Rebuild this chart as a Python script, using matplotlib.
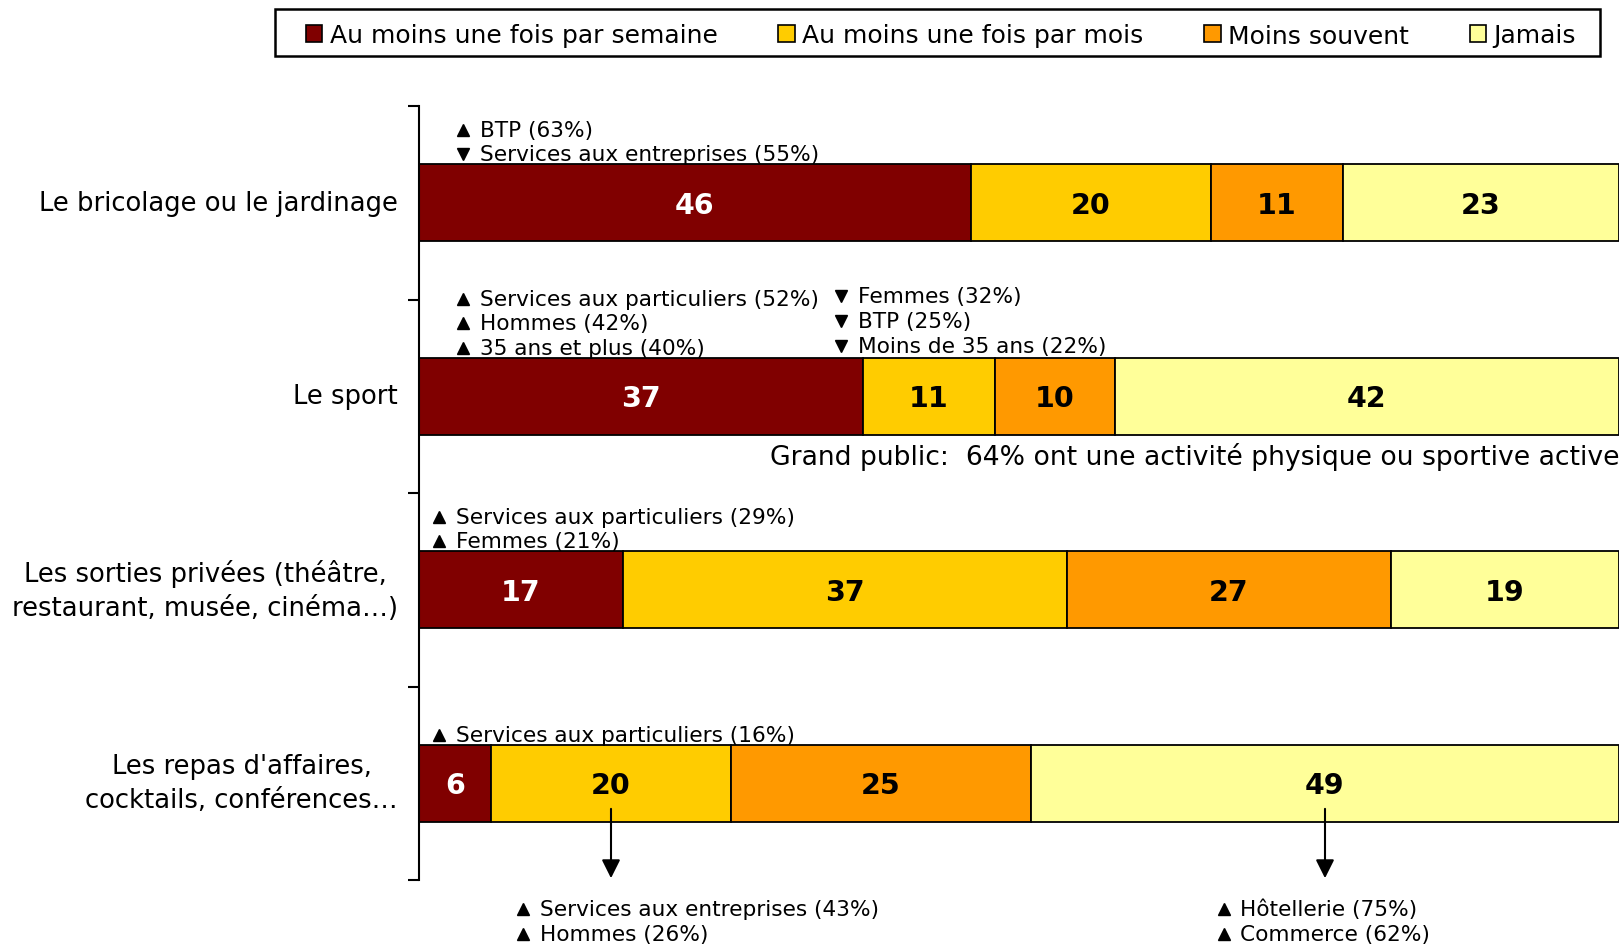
import numpy as np
import matplotlib.pyplot as plt
from matplotlib.patches import Patch, Rectangle

plt.rcParams['font.family'] = 'DejaVu Sans'

categories = [
    "Le bricolage ou le jardinage",
    "Le sport",
    "Les sorties privées (théâtre,\nrestaurant, musée, cinéma…)",
    "Les repas d'affaires,\ncocktails, conférences…",
]
series = ["Au moins une fois par semaine", "Au moins une fois par mois",
          "Moins souvent", "Jamais"]
semaine = [46, 37, 17, 6]
mois = [20, 11, 37, 20]
moins_souvent = [11, 10, 27, 25]
jamais = [23, 42, 19, 49]
colors = ["#800000", "#FFCC00", "#FF9900", "#FFFF99"]
text_colors = ["white", "black", "black", "black"]

# sub-population notes above each bar: (bar, x start, [(direction, text), ...])
notes = [
    (0, 3.7, [("^", "BTP (63%)"), ("v", "Services aux entreprises (55%)")]),
    (1, 3.7, [("^", "Services aux particuliers (52%)"), ("^", "Hommes (42%)"),
              ("^", "35 ans et plus (40%)")]),
    (1, 35.2, [("v", "Femmes (32%)"), ("v", "BTP (25%)"),
               ("v", "Moins de 35 ans (22%)")]),
    (2, 1.7, [("^", "Services aux particuliers (29%)"), ("^", "Femmes (21%)")]),
    (3, 1.7, [("^", "Services aux particuliers (16%)")]),
]
# notes hanging below the last bar, pointed at a segment:
# (series index, shift from arrow, lines)
below_notes = [
    (1, -7.3, [("^", "Services aux entreprises (43%)"), ("^", "Hommes (26%)")]),
    (3, -8.4, [("^", "Hôtellerie (75%)"), ("^", "Commerce (62%)")]),
]
grand_public = "Grand public:  64% ont une activité physique ou sportive active"

values = np.array([semaine, mois, moins_souvent, jamais])
ypos = np.arange(len(categories))
bar_h = 0.4
step = 0.127

fig = plt.figure(figsize=(16.23, 9.45), dpi=100)
ax = fig.add_axes([419 / 1623, 1 - 881 / 945, 1200 / 1623, 774 / 945])

left = np.zeros(len(categories))
for i, (name, col) in enumerate(zip(series, colors)):
    ax.barh(ypos, values[i], left=left, height=bar_h, color=col,
            edgecolor="black", linewidth=1.3, label=name)
    for j in range(len(categories)):
        ax.text(left[j] + values[i][j] / 2, ypos[j] + 0.01, str(values[i][j]),
                ha="center", va="center", fontsize=20.5, fontweight="bold",
                color=text_colors[i])
    left += values[i]

ax.set_xlim(0, 100)
ax.set_ylim(len(categories) - 0.5, -0.5)
ax.set_xticks([])
ax.set_yticks(np.arange(len(categories) + 1) - 0.5)
ax.set_yticklabels([])
ax.tick_params(axis="y", direction="out", length=8, width=1.5)
for s in ["top", "right", "bottom"]:
    ax.spines[s].set_visible(False)
ax.spines["left"].set_linewidth(1.5)

for j, cat in enumerate(categories):
    ax.text(-0.0175, 1 - (j + 0.5) / len(categories), cat,
            transform=ax.transAxes, ha="right", va="center",
            multialignment="center", fontsize=18.6, linespacing=1.38)


def note_lines(x, y0, lines):
    for k, (mk, txt) in enumerate(lines):
        y = y0 + k * step
        ax.plot(x, y, marker=mk, color="black", markersize=8.5,
                linestyle="none", clip_on=False)
        ax.text(x + 1.35, y, txt, ha="left", va="center", fontsize=15.6,
                clip_on=False)


for bar, x, lines in notes:
    top = ypos[bar] - bar_h / 2
    y0 = top - 0.05 - (len(lines) - 1) * step
    if x > 20:
        y0 -= 0.012
    note_lines(x, y0, lines)

ax.text(100, ypos[1] + bar_h / 2 + 0.11, grand_public, ha="right",
        va="center", fontsize=19.2)

last = len(categories) - 1
starts = np.cumsum(values[:, last]) - values[:, last]
for si, shift, lines in below_notes:
    xc = starts[si] + values[si][last] / 2
    ax.annotate("", xy=(xc, last + 0.505), xytext=(xc, last + 0.118),
                arrowprops=dict(arrowstyle="-|>", color="black", lw=1.5,
                                mutation_scale=28),
                annotation_clip=False)
    note_lines(xc + shift, last + 0.65, lines)

# legend box drawn on its own, entries spread inside it
fig.patches.append(Rectangle((275 / 1623, 1 - 57 / 945), 1325 / 1623, 47 / 945,
                             transform=fig.transFigure, facecolor="white",
                             edgecolor="black", linewidth=1.8))
handles = [Patch(facecolor=c, edgecolor="black", linewidth=1.2) for c in colors]
fig.legend(handles, series, loc="center left", ncol=4, mode="expand",
           bbox_to_anchor=(306 / 1623, 1 - 60 / 945, 1270 / 1623, 47 / 945),
           fontsize=18, frameon=False,
           handlelength=0.65, handleheight=0.65, handletextpad=0.3,
           borderaxespad=0, borderpad=0)

fig.savefig("out.png", dpi=100)
